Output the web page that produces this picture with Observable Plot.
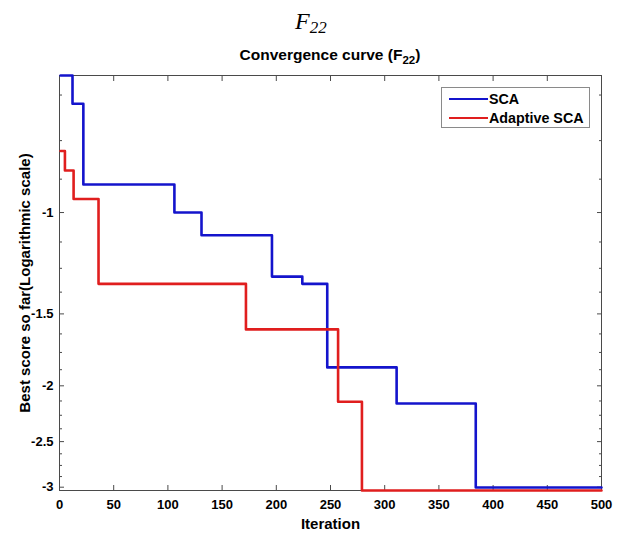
<!DOCTYPE html>
<html><head><meta charset="utf-8">
<script src="https://cdn.jsdelivr.net/npm/d3@7"></script>
<script src="https://cdn.jsdelivr.net/npm/@observablehq/plot@0.6"></script>
<style>
body{margin:0;background:#fff;}
#wrap{position:relative;width:631px;height:537px;font-family:"Liberation Sans",Arial,sans-serif;overflow:hidden;}
#f22{position:absolute;left:295px;top:9px;font-family:"Liberation Serif","Times New Roman",serif;font-style:italic;font-size:24px;line-height:24px;white-space:nowrap;}
#f22 sub{font-size:17px;vertical-align:-4px;line-height:0;}
#sub{position:absolute;left:59px;width:542px;top:47px;text-align:center;font-weight:bold;font-size:15.5px;line-height:16px;white-space:nowrap;}
#sub sub{font-size:11.5px;vertical-align:-4px;line-height:0;}
#chart{position:absolute;left:0;top:70px;}
#legend{position:absolute;left:441px;top:87px;width:147px;height:39px;border:1px solid #8a8a8a;background:#fff;}
.lrow{position:absolute;left:7px;height:16px;font-weight:bold;font-size:14.3px;line-height:16px;white-space:nowrap;}
.lrow i{display:inline-block;width:39px;height:2.5px;vertical-align:4px;margin-right:1px;}
</style></head>
<body>
<div id="wrap">
  <div id="f22">F<sub>22</sub></div>
  <div id="sub">Convergence curve (F<sub>22</sub>)</div>
  <div id="chart"></div>
  <div id="legend"></div>
</div>
<script>
// Data
const seriesNames = ["SCA", "Adaptive SCA"];
const seriesColors = ["#1414cc", "#e01e1e"];
const iterSCA  = [1, 12, 22, 106, 131, 196, 224, 247, 311, 384, 500];
const scoreSCA = [-0.578, -0.647, -0.894, -1.0, -1.095, -1.292, -1.330, -1.858, -2.147, -3.004, -3.004];
const iterASCA  = [1, 5, 13, 36, 172, 257, 279, 500];
const scoreASCA = [-0.782, -0.845, -0.947, -1.330, -1.596, -2.132, -3.04, -3.04];
const xTicks = [0, 50, 100, 150, 200, 250, 300, 350, 400, 450, 500];
const yTicks = [-1, -1.5, -2, -2.5, -3];
const yMinorTicks = [-0.625, -0.75, -0.875, -1.125, -1.25, -1.375, -1.625, -1.75, -1.875,
  -2.125, -2.25, -2.375, -2.625, -2.75, -2.875];
const yDomain = [-3.04, -0.578];
const xDomain = [0, 500];
const xLabel = "Iteration";
const yLabel = "Best score so far(Logarithmic scale)";

const rows = [
  ...iterSCA.map((it, i) => ({series: seriesNames[0], iter: it, score: scoreSCA[i]})),
  ...iterASCA.map((it, i) => ({series: seriesNames[1], iter: it, score: scoreASCA[i]}))
];

const axisColor = "#4a4a4a";
const chart = Plot.plot({
  width: 631, height: 467,
  marginLeft: 59, marginRight: 30, marginTop: 5, marginBottom: 47,
  style: {fontFamily: '"Liberation Sans", Arial, sans-serif', fontSize: "13px", fontWeight: "bold", color: "#000", background: "#fff"},
  x: {domain: xDomain},
  y: {type: "log", domain: yDomain},
  color: {domain: seriesNames, range: seriesColors},
  marks: [
    Plot.frame({stroke: axisColor}),
    Plot.axisX({anchor: "bottom", ticks: xTicks, tickSize: -5, tickPadding: 14, tickFormat: d => String(d), label: null, stroke: axisColor, fill: "#000"}),
    Plot.axisX({anchor: "top", ticks: xTicks, tickSize: -5, fill: "none", label: null, stroke: axisColor}),
    Plot.axisY({anchor: "left", ticks: yTicks, tickSize: -5, tickPadding: 11, tickFormat: d => String(d), label: null, stroke: axisColor, fill: "#000"}),
    Plot.axisY({anchor: "left", ticks: yMinorTicks, tickSize: -3, fill: "none", label: null, stroke: axisColor}),
    Plot.axisY({anchor: "right", ticks: yTicks, tickSize: -5, fill: "none", label: null, stroke: axisColor}),
    Plot.axisY({anchor: "right", ticks: yMinorTicks, tickSize: -3, fill: "none", label: null, stroke: axisColor}),
    Plot.text([xLabel], {frameAnchor: "bottom", dy: 38, text: d => d, fontSize: 15, fontWeight: "bold", fill: "#000"}),
    Plot.text([yLabel], {frameAnchor: "left", textAnchor: "middle", dx: -34, rotate: -90, text: d => d, fontSize: 15, fontWeight: "bold", fill: "#000"}),
    Plot.line(rows, {x: "iter", y: "score", z: "series", stroke: "series", curve: "step-after", strokeWidth: 2.6})
  ]
});
document.getElementById("chart").appendChild(chart);

const legend = document.getElementById("legend");
seriesNames.forEach((name, i) => {
  const row = document.createElement("div");
  row.className = "lrow";
  row.style.top = (3 + i * 19) + "px";
  row.innerHTML = `<i style="background:${seriesColors[i]}"></i>${name}`;
  legend.appendChild(row);
});
</script>
</body></html>
